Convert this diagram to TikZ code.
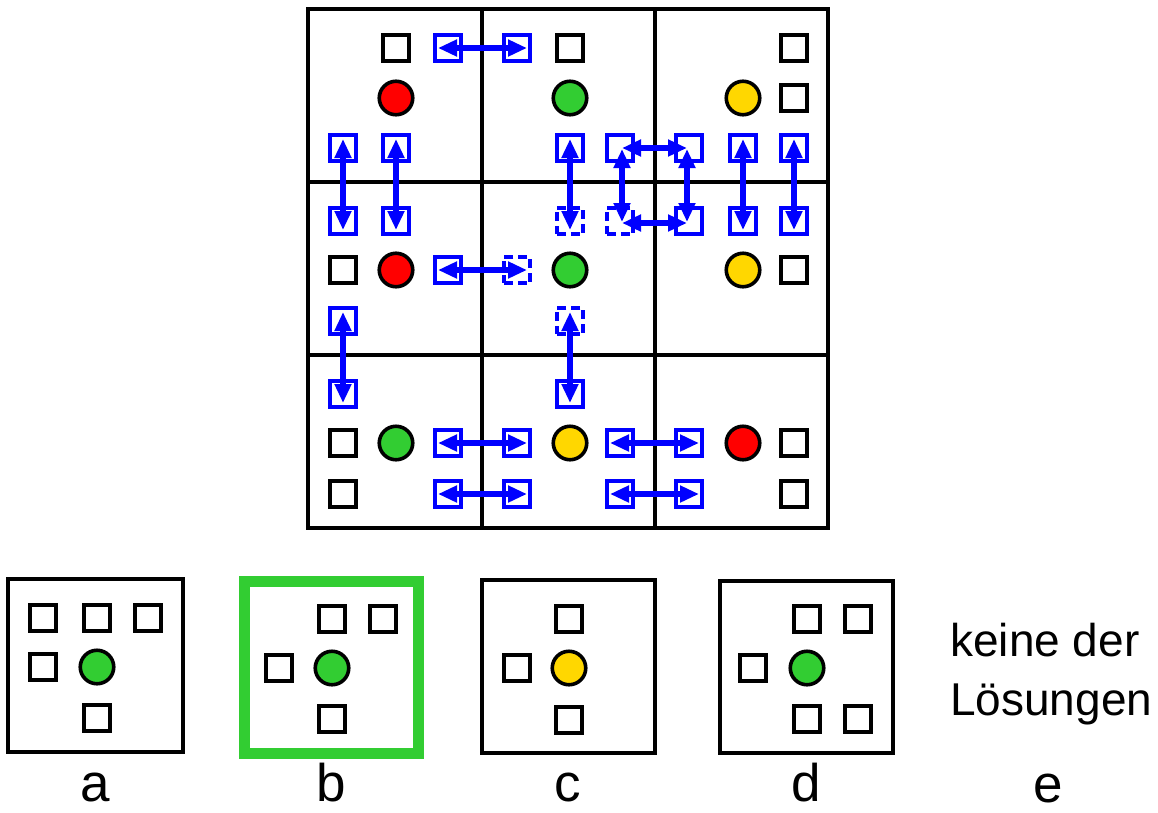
\documentclass[tikz,border=0pt]{standalone}
\usepackage{fontspec}
\setmainfont{Liberation Sans}
\usetikzlibrary{arrows.meta}
\definecolor{lgreen}{RGB}{50,205,50}
\definecolor{gold}{RGB}{255,215,0}
\begin{document}
\begin{tikzpicture}[x=1pt,y=-1pt,
  sq/.style={rectangle,draw=black,line width=3.8pt,minimum size=26.5pt,inner sep=0pt,fill=white},
  bsq/.style={sq,draw=blue},
  dsq/.style={sq,draw=blue,dash pattern=on 9pt off 5pt},
  dot/.style={circle,draw=black,line width=3.6pt,minimum size=33.5pt,inner sep=0pt},
  rdot/.style={dot,fill=red},
  gdot/.style={dot,fill=lgreen},
  ydot/.style={dot,fill=gold},
  arr/.style={draw=blue,line width=6pt,{Triangle[length=19pt,width=16pt]}-{Triangle[length=19pt,width=16pt]}},
  gridline/.style={draw=black,line width=3.6pt},
  frame/.style={draw=black,line width=3.6pt},
  lab/.style={font=\fontsize{53}{60}\selectfont,anchor=base,inner sep=0pt},
  txt/.style={font=\fontsize{46}{52}\selectfont,anchor=base west,inner sep=0pt}]
\useasboundingbox (0,0) rectangle (1158,812);
% grid
\draw[gridline] (308,9) rectangle (828,528);
\draw[gridline] (482,9) -- (482,528);
\draw[gridline] (655,9) -- (655,528);
\draw[gridline] (308,182) -- (828,182);
\draw[gridline] (308,355) -- (828,355);
% cell (0,0)
\node[sq] (k10) at (396,48) {};
\node[rdot] (c11) at (396,98) {};
\node[bsq] (b20) at (448,48) {};
\node[bsq] (b02) at (343,148) {};
\node[bsq] (b12) at (396,148) {};
% cell (1,0)
\node[bsq] (b30) at (517,48) {};
\node[sq] (k40) at (570,48) {};
\node[gdot] (c41) at (570,98) {};
\node[bsq] (b42) at (570,148) {};
\node[bsq] (b52) at (620,148) {};
% cell (2,0)
\node[sq] (k80) at (794,48) {};
\node[ydot] (c71) at (743,98) {};
\node[sq] (k81) at (794,98) {};
\node[bsq] (b62) at (689,148) {};
\node[bsq] (b72) at (743,148) {};
\node[bsq] (b82) at (794,148) {};
% cell (0,1)
\node[bsq] (b03) at (343,221) {};
\node[bsq] (b13) at (396,221) {};
\node[sq] (k04) at (343,270) {};
\node[rdot] (c14) at (396,270) {};
\node[bsq] (b24) at (448,270) {};
\node[bsq] (b05) at (343,321) {};
% cell (1,1)
\node[dsq] (d43) at (570,221) {};
\node[dsq] (d53) at (620,221) {};
\node[dsq] (d34) at (517,270) {};
\node[gdot] (c44) at (570,270) {};
\node[dsq] (d45) at (570,321) {};
% cell (2,1)
\node[bsq] (b63) at (689,221) {};
\node[bsq] (b73) at (743,221) {};
\node[bsq] (b83) at (794,221) {};
\node[ydot] (c74) at (743,270) {};
\node[sq] (k84) at (794,270) {};
% cell (0,2)
\node[bsq] (b06) at (343,394) {};
\node[sq] (k07) at (343,443) {};
\node[gdot] (c17) at (396,443) {};
\node[bsq] (b27) at (448,443) {};
\node[sq] (k08) at (343,494) {};
\node[bsq] (b28) at (448,494) {};
% cell (1,2)
\node[bsq] (b46) at (570,394) {};
\node[bsq] (b37) at (517,443) {};
\node[ydot] (c47) at (570,443) {};
\node[bsq] (b57) at (620,443) {};
\node[bsq] (b38) at (517,494) {};
\node[bsq] (b58) at (620,494) {};
% cell (2,2)
\node[bsq] (b67) at (689,443) {};
\node[rdot] (c77) at (743,443) {};
\node[sq] (k87) at (794,443) {};
\node[bsq] (b68) at (689,494) {};
\node[sq] (k88) at (794,494) {};
% horizontal arrows
\foreach \a/\b in {b20/b30, b24/d34, b27/b37, b28/b38, b57/b67, b58/b68}
  \draw[arr] ([xshift=-10pt]\a.center) -- ([xshift=10pt]\b.center);
% vertical arrows
\foreach \a/\b in {b02/b03, b12/b13, b42/d43, b72/b73, b82/b83, b05/b06, d45/b46}
  \draw[arr] ([yshift=9pt]\a.center) -- ([yshift=-9pt]\b.center);
% loop
\draw[arr] ([xshift=2pt]b52.center) -- ([xshift=-2pt]b62.center);
\draw[arr] ([xshift=2pt,yshift=-1pt]b52.center) -- ([xshift=2pt,yshift=-1pt]d53.center);
\draw[arr] ([xshift=-2pt,yshift=-1pt]b62.center) -- ([xshift=-2pt,yshift=-1pt]b63.center);
\draw[arr] ([xshift=2pt,yshift=-2pt]d53.center) -- ([xshift=-2pt,yshift=-2pt]b63.center);
% answer a
\draw[frame] (8,579) rectangle (183,752);
\node[sq] (a1) at (43,618) {};
\node[sq] (a2) at (97,618) {};
\node[sq] (a3) at (148,618) {};
\node[sq] (a4) at (43,667) {};
\node[gdot] (a5) at (97,667) {};
\node[sq] (a6) at (97,718) {};
% answer b
\draw[draw=lgreen,line width=11pt] (244.5,581) rectangle (418,753);
\node[sq] (bb1) at (332,619) {};
\node[sq] (bb2) at (383,619) {};
\node[sq] (bb3) at (279,668) {};
\node[gdot] (bb4) at (332,668) {};
\node[sq] (bb5) at (332,719) {};
% answer c
\draw[frame] (482,580) rectangle (655,753);
\node[sq] (cc1) at (569,619) {};
\node[sq] (cc2) at (517,668) {};
\node[ydot] (cc3) at (569,668) {};
\node[sq] (cc4) at (569,720) {};
% answer d
\draw[frame] (720,581) rectangle (893,753);
\node[sq] (dd1) at (807,619) {};
\node[sq] (dd2) at (858,619) {};
\node[sq] (dd3) at (753,668) {};
\node[gdot] (dd4) at (807,668) {};
\node[sq] (dd5) at (807,719) {};
\node[sq] (dd6) at (858,719) {};
% labels
\node[lab] (la) at (95,801) {a};
\node[lab] (lb) at (331,801) {b};
\node[lab] (lc) at (568,801) {c};
\node[lab] (ld) at (806,801) {d};
\node[lab] (le) at (1048,802) {e};
\node[txt] (t1) at (950,656) {keine der};
\node[txt] (t2) at (950,715) {Lösungen};
\end{tikzpicture}
\end{document}
